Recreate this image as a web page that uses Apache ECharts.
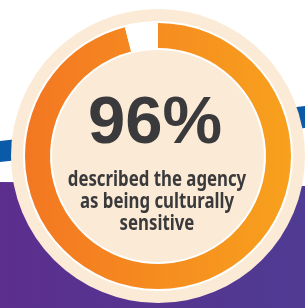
<!DOCTYPE html>
<html>
<head>
    <meta charset="UTF-8">
    <title>96%</title>
    <script src="https://cdn.jsdelivr.net/npm/echarts@6/dist/echarts.min.js"></script>
    <style>
        html, body { margin: 0; padding: 0; background: #ffffff; }
        #chart { width: 305px; height: 308px; }
    </style>
</head>
<body>
    <div id="chart"></div>
    <script>
    // data
    const categories = ['culturally sensitive', 'other'];
    const shareValues = [96, 4];
    const bigLabel = '96%';
    const caption = ['described the agency', 'as being culturally', 'sensitive'];

    const chart = echarts.init(document.getElementById('chart'));

    const cx = 158, cy = 156;

    const option = {
        backgroundColor: '#ffffff',
        animation: false,
        graphic: [
            // blue stripe
            {
                type: 'polygon', z: 0, silent: true,
                shape: { points: [[0, 141], [305, 106], [305, 128], [0, 162]] },
                style: { fill: '#0b5aa8' }
            },
            // purple bottom
            {
                type: 'polygon', z: 0, silent: true,
                shape: { points: [[0, 182], [150, 183], [305, 186], [305, 308], [0, 308]] },
                style: {
                    fill: new echarts.graphic.LinearGradient(0, 0, 1, 0, [
                        { offset: 0, color: '#5c2e8e' },
                        { offset: 1, color: '#4f3b93' }
                    ])
                }
            },
            // cream disc
            {
                type: 'circle', z: 1, silent: true,
                shape: { cx: cx, cy: cy, r: 147 },
                style: { fill: '#fbebd6' }
            },
            {
                type: 'text', z: 10, silent: true,
                x: 155, y: 125,
                style: {
                    text: bigLabel,
                    fill: '#3a3a3c',
                    font: 'bold 67px "Liberation Sans", Arial, sans-serif',
                    align: 'center',
                    verticalAlign: 'middle'
                }
            },
            {
                type: 'text', z: 10, silent: true,
                x: 157, y: 202,
                scaleX: 0.8,
                style: {
                    text: caption.join('\n'),
                    fill: '#3a3a3c',
                    font: 'bold 21px "Noto Sans", sans-serif',
                    lineHeight: 22,
                    align: 'center',
                    verticalAlign: 'middle'
                }
            }
        ],
        series: [
            {
                // white track under the ring
                type: 'pie',
                silent: true,
                z: 2,
                center: [cx, cy],
                radius: [106, 135],
                label: { show: false },
                labelLine: { show: false },
                itemStyle: { color: '#ffffff' },
                data: [{ value: 1, name: 'track' }]
            },
            {
                type: 'pie',
                silent: true,
                z: 3,
                center: [cx, cy],
                radius: [108, 133],
                startAngle: 90,
                clockwise: true,
                label: { show: false },
                labelLine: { show: false },
                data: categories.map(function (name, i) {
                    return {
                        name: name,
                        value: shareValues[i],
                        itemStyle: i === 0 ? {
                            color: new echarts.graphic.LinearGradient(0, 0, 1, 0, [
                                { offset: 0, color: '#f37722' },
                                { offset: 1, color: '#f8a11d' }
                            ])
                        } : { color: '#ffffff' }
                    };
                })
            }
        ]
    };

    chart.setOption(option);
    </script>
</body>
</html>
